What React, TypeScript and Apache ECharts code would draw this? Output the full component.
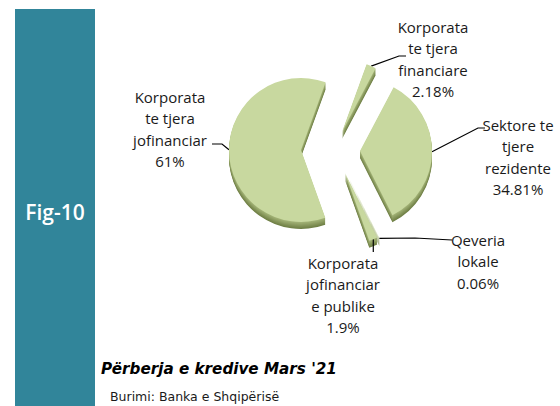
import React, { useEffect, useRef } from 'react';
import * as echarts from 'echarts';

// ---- data ----
const categories = [
  'Korporata\nte tjera\nfinanciare',
  'Sektore te\ntjere\nrezidente',
  'Qeveria\nlokale',
  'Korporata\njofinanciar\ne publike',
  'Korporata\nte tjera\njofinanciar',
];
const shares = [2.18, 34.81, 0.06, 1.9, 61];
const shareLabels = ['2.18%', '34.81%', '0.06%', '1.9%', '61%'];
const figureTag = 'Fig-10';
const chartTitle = "Përberja e kredive Mars '21";
const sourceNote = 'Burimi: Banka e Shqipërisë';

// ---- layout (not data) ----
const RADIUS = 72;
const START_ANGLE = 70;
const sliceCenters: number[][] = [
  [342, 132],
  [360, 151],
  [347, 174],
  [345, 173],
  [301, 150],
];
const labelAnchors: number[][] = [
  [433, 59],
  [518, 157],
  [478, 261],
  [343, 295],
  [170, 129],
];
const leaderBends: number[][][] = [
  [[399, 56], [406, 56]],
  [[478, 128], [485, 128]],
  [[415, 238], [452, 240]],
  [[0, 247], [0, 252]],
  [[222, 144], [212, 144]],
];
const FACE = '#c8d89f';
const DEPTH = 7;

function mix(a: number[], b: number[], t: number) {
  const c = a.map((v, i) => Math.round(v + (b[i] - v) * t));
  return `rgb(${c[0]},${c[1]},${c[2]})`;
}

function makePie(idx: number, center: number[], color: string, withLabel: boolean, z: number) {
  return {
    type: 'pie',
    z,
    silent: true,
    center,
    radius: RADIUS,
    startAngle: START_ANGLE,
    clockwise: true,
    minAngle: 0,
    avoidLabelOverlap: false,
    emphasis: { disabled: true },
    data: shares.map((v, j) => ({
      name: categories[j],
      value: v,
      itemStyle: { color: j === idx ? color : 'rgba(0,0,0,0)', borderWidth: 0 },
      label: { show: withLabel && j === idx },
      labelLine: { show: withLabel && j === idx },
    })),
    label: {
      formatter: (p: any) => `${p.name}\n${shareLabels[p.dataIndex]}`,
      color: '#1a1a1a',
      fontFamily: 'Open Sans',
      fontSize: 15,
      lineHeight: 21.5,
      align: 'center',
    },
    labelLine: { lineStyle: { color: '#000', width: 1.2 }, smooth: false },
    labelLayout: withLabel
      ? (p: any) => {
          if (p.dataIndex !== idx) return {};
          const start = p.labelLinePoints ? p.labelLinePoints[0] : [center[0], center[1]];
          let bends = leaderBends[idx];
          if (idx === 3) bends = [[start[0], bends[0][1]], [start[0], bends[1][1]]];
          return {
            x: labelAnchors[idx][0],
            y: labelAnchors[idx][1],
            align: 'center',
            verticalAlign: 'middle',
            labelLinePoints: [start, bends[0], bends[1]],
          };
        }
      : undefined,
  };
}

export default function App() {
  const ref = useRef<HTMLDivElement>(null);
  useEffect(() => {
    const chart = echarts.init(ref.current!, null, { renderer: 'svg' });
    const series: any[] = [];
    shares.forEach((_, i) => {
      for (let k = DEPTH; k >= 1; k--) {
        const t = (k - 1) / (DEPTH - 1);
        series.push(
          makePie(i, [sliceCenters[i][0], sliceCenters[i][1] + k], mix([160, 176, 116], [112, 128, 70], t), false, 1)
        );
      }
    });
    shares.forEach((_, i) => series.push(makePie(i, sliceCenters[i], FACE, true, 2)));

    chart.setOption({
      animation: false,
      backgroundColor: '#ffffff',
      graphic: [
        { type: 'rect', shape: { x: 15, y: 9, width: 80, height: 400 }, style: { fill: '#31859a' }, z: 0 },
        {
          type: 'text',
          x: 55,
          y: 212,
          style: {
            text: figureTag,
            fill: '#ffffff',
            font: '600 21px "Open Sans"',
            align: 'center',
            verticalAlign: 'middle',
          },
        },
        {
          type: 'text',
          x: 101,
          y: 369,
          style: {
            text: chartTitle,
            fill: '#000000',
            font: 'italic bold 15.2px "DejaVu Sans"',
            verticalAlign: 'middle',
          },
        },
        {
          type: 'text',
          x: 110,
          y: 396,
          style: {
            text: sourceNote,
            fill: '#1a1a1a',
            font: '12.5px "DejaVu Sans"',
            verticalAlign: 'middle',
          },
        },
      ],
      series,
    });
    return () => chart.dispose();
  }, []);
  return <div ref={ref} style={{ position: 'absolute', left: 0, top: 0, width: 560, height: 406 }} />;
}
